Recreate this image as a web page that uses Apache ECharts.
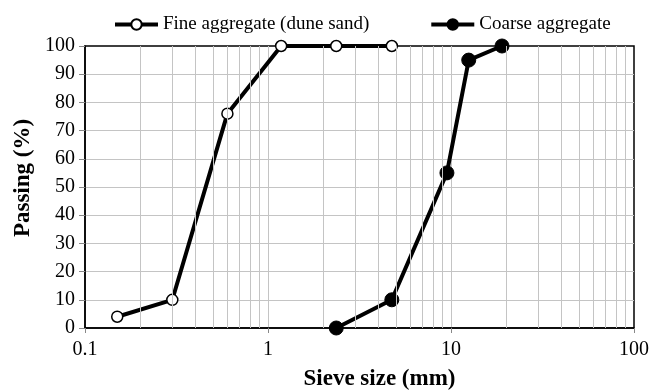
<!DOCTYPE html>
<html>
<head>
<meta charset="utf-8">
<script src="https://cdn.jsdelivr.net/npm/echarts@6/dist/echarts.min.js"></script>
<style>
  html, body { margin: 0; padding: 0; background: #fff; }
  #chart { width: 663px; height: 391px; }
</style>
</head>
<body>
<div id="chart"></div>
<script>
const fineSize = [0.15, 0.3, 0.6, 1.18, 2.36, 4.75]
const finePassing = [4, 10, 76, 100, 100, 100]
const coarseSize = [2.36, 4.75, 9.5, 12.5, 19]
const coarsePassing = [0, 10, 55, 95, 100]
const minorGrid = [0.2, 0.3, 0.4, 0.5, 0.6, 0.7, 0.8, 0.9,
  2, 3, 4, 5, 6, 7, 8, 9,
  20, 30, 40, 50, 60, 70, 80, 90]

const serif = 'Liberation Serif'
const chart = echarts.init(document.getElementById('chart'))

chart.setOption({
  backgroundColor: '#fff',
  animation: false,
  grid: {
    left: 85,
    right: 29,
    top: 46,
    bottom: 63,
    outerBoundsMode: 'none',
    show: true,
    borderColor: '#000',
    borderWidth: 1.5
  },
  legend: {
    top: 10,
    left: 108,
    itemGap: 60,
    itemWidth: 43,
    itemHeight: 13,
    lineStyle: { width: 4 },
    textStyle: { fontFamily: serif, fontSize: 19, color: '#000' },
    data: ['Fine aggregate (dune sand)', 'Coarse aggregate']
  },
  xAxis: {
    type: 'log',
    logBase: 10,
    min: 0.1,
    max: 100,
    name: 'Sieve size (mm)',
    nameLocation: 'middle',
    nameGap: 40,
    nameTextStyle: {
      fontFamily: serif, fontSize: 23, fontWeight: 'bold', color: '#000',
      padding: [0, 0, 0, 40]
    },
    axisLine: { lineStyle: { color: '#000', width: 1.5 } },
    axisTick: { show: true, length: 5, lineStyle: { color: '#888' } },
    axisLabel: {
      fontFamily: serif, fontSize: 20, color: '#000', margin: 12,
      formatter: function (v) { return String(+v.toFixed(1)) }
    },
    splitLine: { show: true, showMinLine: false, showMaxLine: false, lineStyle: { color: '#c4c4c4', width: 1 } }
  },
  yAxis: {
    type: 'value',
    min: 0,
    max: 100,
    interval: 10,
    name: 'Passing (%)',
    nameLocation: 'middle',
    nameGap: 47,
    nameTextStyle: {
      fontFamily: serif, fontSize: 23, fontWeight: 'bold', color: '#000',
      padding: [0, 0, 0, 18]
    },
    axisLine: { show: true, lineStyle: { color: '#000', width: 1.5 } },
    axisTick: { show: true, length: 6, lineStyle: { color: '#888' } },
    axisLabel: { fontFamily: serif, fontSize: 20, color: '#000', margin: 10 },
    splitLine: { show: true, showMinLine: false, showMaxLine: false, lineStyle: { color: '#c4c4c4', width: 1 } }
  },
  series: [
    {
      name: 'grid',
      type: 'line',
      data: [],
      silent: true,
      z: 1,
      markLine: {
        silent: true,
        symbol: 'none',
        label: { show: false },
        lineStyle: { color: '#c4c4c4', width: 1, type: 'solid' },
        data: minorGrid.map(function (v) { return { xAxis: v } })
      }
    },
    {
      name: 'Fine aggregate (dune sand)',
      type: 'line',
      z: 3,
      symbol: 'circle',
      symbolSize: 11,
      lineStyle: { color: '#000', width: 4 },
      itemStyle: { color: '#fff', borderColor: '#000', borderWidth: 1.5 },
      data: fineSize.map(function (x, i) { return [x, finePassing[i]] })
    },
    {
      name: 'Coarse aggregate',
      type: 'line',
      z: 3,
      symbol: 'circle',
      symbolSize: 14,
      lineStyle: { color: '#000', width: 4 },
      itemStyle: { color: '#000', borderColor: '#000', borderWidth: 1 },
      data: coarseSize.map(function (x, i) { return [x, coarsePassing[i]] })
    }
  ]
})
</script>
</body>
</html>
